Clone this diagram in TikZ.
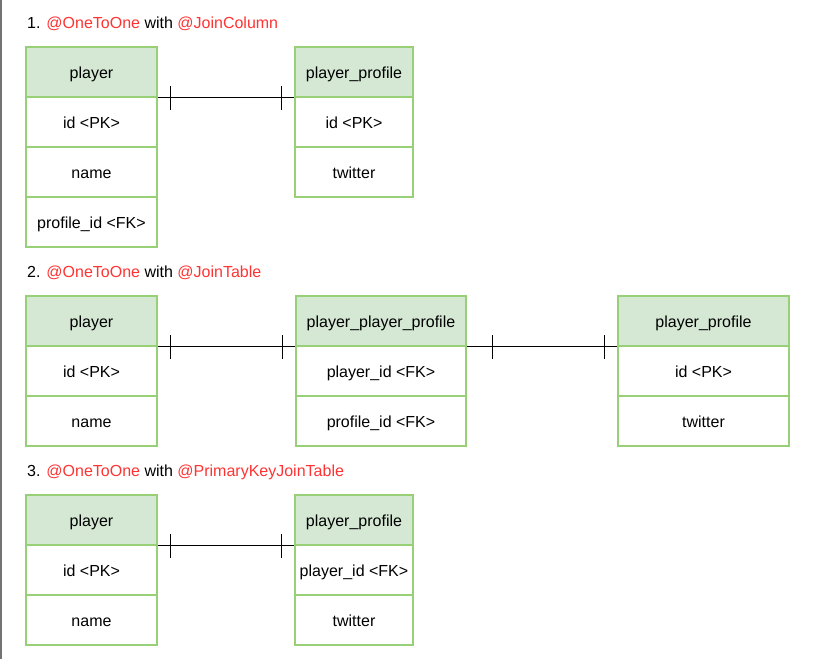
\documentclass[tikz,border=0pt]{standalone}
\usepackage{fontspec}
\setmainfont{Liberation Sans}
\usetikzlibrary{decorations.markings}
\definecolor{hdrfill}{HTML}{D5E8D4}
\definecolor{tblline}{HTML}{97D077}
\definecolor{annot}{HTML}{FF3333}
\tikzset{
  cell/.style={draw=tblline, line width=1.4pt, minimum height=50pt,
    inner sep=0pt, text height=14pt, text depth=2pt,
    font=\fontsize{16}{19}\selectfont},
  hdr/.style={cell, fill=hdrfill},
  title/.style={anchor=west, inner sep=0pt, font=\fontsize{16}{19}\selectfont},
  tick/.style={line width=1.1pt},
  onetoone/.style={draw=black, line width=1.1pt, postaction={decorate},
    decoration={markings,
      mark=at position #1 with {\draw[tick] (0,-12pt) -- (0,12pt);},
      mark=at position -13pt with {\draw[tick] (0,-12pt) -- (0,12pt);}}},
  onetoone/.default=13pt
}
\newcommand{\kw}[1]{\textcolor{annot}{#1}}
\begin{document}
\begin{tikzpicture}[x=1pt, y=-1pt]
  \useasboundingbox (0,0) rectangle (814,659);
  \fill[white] (0,0) rectangle (814,659);
  % left page edge
  \draw[line width=1.5pt, color=black!55] (1,0) -- (1,659);

  % ---------- 1. JoinColumn ----------
  \node[title] (t1) at (27,24) {1. \kw{@OneToOne} with \kw{@JoinColumn}};
  \node[hdr,  minimum width=131pt] (a1h) at (91.5,72)  {player};
  \node[cell, minimum width=131pt] (a1r1) at (91.5,122) {id <PK>};
  \node[cell, minimum width=131pt] (a1r2) at (91.5,172) {name};
  \node[cell, minimum width=131pt] (a1r3) at (91.5,222) {profile\_id <FK>};
  \node[hdr,  minimum width=118pt] (b1h) at (354,72)  {player\_profile};
  \node[cell, minimum width=118pt] (b1r1) at (354,122) {id <PK>};
  \node[cell, minimum width=118pt] (b1r2) at (354,172) {twitter};
  \draw[onetoone] (a1h.south east) -- (b1h.south west);

  % ---------- 2. JoinTable ----------
  \node[title] (t2) at (27,273) {2. \kw{@OneToOne} with \kw{@JoinTable}};
  \node[hdr,  minimum width=131pt] (a2h) at (91.5,321)  {player};
  \node[cell, minimum width=131pt] (a2r1) at (91.5,371) {id <PK>};
  \node[cell, minimum width=131pt] (a2r2) at (91.5,421) {name};
  \node[hdr,  minimum width=170pt] (j2h) at (381,321)  {player\_player\_profile};
  \node[cell, minimum width=170pt] (j2r1) at (381,371) {player\_id <FK>};
  \node[cell, minimum width=170pt] (j2r2) at (381,421) {profile\_id <FK>};
  \node[hdr,  minimum width=171pt] (b2h) at (703.5,321)  {player\_profile};
  \node[cell, minimum width=171pt] (b2r1) at (703.5,371) {id <PK>};
  \node[cell, minimum width=171pt] (b2r2) at (703.5,421) {twitter};
  \draw[onetoone] (a2h.south east) -- (j2h.south west);
  \draw[onetoone=26pt] (j2h.south east) -- (b2h.south west);

  % ---------- 3. PrimaryKeyJoinTable ----------
  \node[title] (t3) at (27,472) {3. \kw{@OneToOne} with \kw{@PrimaryKeyJoinTable}};
  \node[hdr,  minimum width=131pt] (a3h) at (91.5,520)  {player};
  \node[cell, minimum width=131pt] (a3r1) at (91.5,570) {id <PK>};
  \node[cell, minimum width=131pt] (a3r2) at (91.5,620) {name};
  \node[hdr,  minimum width=118pt] (b3h) at (354,520)  {player\_profile};
  \node[cell, minimum width=118pt] (b3r1) at (354,570) {player\_id <FK>};
  \node[cell, minimum width=118pt] (b3r2) at (354,620) {twitter};
  \draw[onetoone] (a3h.south east) -- (b3h.south west);
\end{tikzpicture}
\end{document}
